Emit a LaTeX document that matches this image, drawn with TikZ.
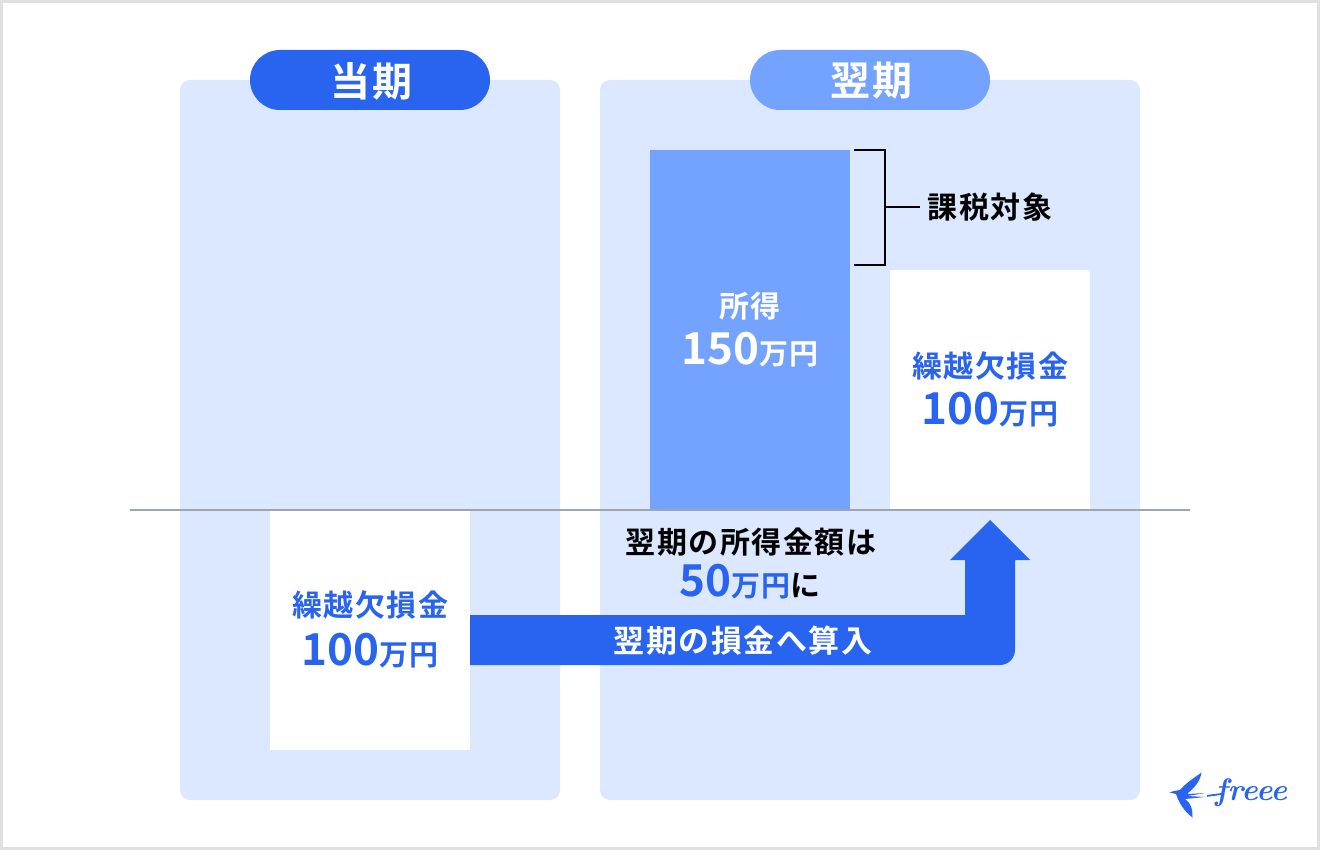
\documentclass[tikz,border=0pt]{standalone}
\usepackage{fontspec}
\newfontfamily\jpfont[LetterSpace=5]{Noto Sans CJK JP Bold}
\newfontfamily\numfont{Noto Sans CJK JP Bold}
\definecolor{freeeBlue}{HTML}{2864F0}
\definecolor{midBlue}{HTML}{73A3FF}
\definecolor{paleBlue}{HTML}{DBE8FF}
\definecolor{axisGray}{HTML}{A0A4AC}
\definecolor{frameGray}{HTML}{E0E0E0}
\newcommand{\jpsize}[1]{\fontsize{#1}{#1}\selectfont\jpfont}
\newcommand{\amount}[1]{{\fontsize{44}{44}\selectfont\numfont #1}{\jpsize{29}万円}}
\tikzset{
	panel/.style={fill=paleBlue, rounded corners=10pt},
	pill/.style={rounded corners=30pt},
	lbl/.style={inner sep=0pt, anchor=center},
	lblW/.style={lbl, text=white},
	lblB/.style={lbl, text=freeeBlue},
	lblK/.style={lbl, text=black}
}
\begin{document}
\begin{tikzpicture}[x=1pt, y=-1pt]
	\useasboundingbox (0,0) rectangle (1320,850);
	\draw[frameGray, line width=3pt] (1.5,1.5) rectangle (1318.5,848.5);

	\fill[panel] (180,80) rectangle (560,800);
	\fill[panel] (600,80) rectangle (1140,800);
	\fill[freeeBlue, pill] (250,50) rectangle (490,110);
	\fill[midBlue, pill] (750,50) rectangle (990,110);
	\node[lblW] (lblCur) at (371,81) {\jpsize{40}当期};
	\node[lblW] (lblNext) at (871,81) {\jpsize{40}翌期};

	% income and carry-over
	\fill[midBlue] (650,150) rectangle (850,510);
	\fill[white] (890,270) rectangle (1090,510);
	\fill[white] (270,510) rectangle (470,750);
	\node[lblW] (lblInc) at (750,306) {\jpsize{30}所得};
	\node[lblW] (amtInc) at (750,350) {\amount{150}};
	\node[lblB] (lblLossR) at (990,366) {\jpsize{30}繰越欠損金};
	\node[lblB] (amtLossR) at (990,410) {\amount{100}};
	\node[lblB] (lblLossL) at (370,605) {\jpsize{30}繰越欠損金};
	\node[lblB] (amtLossL) at (370,651) {\amount{100}};

	\draw[axisGray, line width=1.5pt] (130,510) -- (1190,510);

	% taxable bracket
	\coordinate (brTop) at (854,150);
	\coordinate (brBot) at (854,265);
	\coordinate (brMid) at (885,207);
	\node[lblK] (lblTax) at (990,207) {\jpsize{30}課税対象};
	\draw[black, line width=2pt] (brTop) -- (885,150) -- (885,265) -- (brBot);
	\draw[black, line width=1.5pt] (brMid) -- (920,207);

	% arrow
	\fill[freeeBlue] (470,615) -- (965,615) -- (965,560) -- (950,560) -- (990,520)
		-- (1030,560) -- (1015,560) -- (1015,650) arc[start angle=0, end angle=90, radius=15]
		-- (470,665) -- cycle;
	\node[lblW] (lblArr) at (743,641) {\jpsize{31}翌期の損金へ算入};
	\node[lblK] (lblRes) at (751,542) {\jpsize{30}翌期の所得金額は};
	\node[lblK] (amtRes) at (750,582) {\textcolor{freeeBlue}{\amount{50}}\jpsize{30}に};

	% logo
	\fill[freeeBlue] (1169.5,792.5) .. controls (1175,790) and (1178,791) .. (1180,790)
		.. controls (1186,783) and (1194,778) .. (1201.5,772.5)
		.. controls (1200,782) and (1194,788) .. (1187,794) -- (1205,793) -- (1187,796)
		-- (1205,797) -- (1185,799) .. controls (1191,803) and (1193,810) .. (1192.5,817.5)
		.. controls (1184,811) and (1179,803) .. (1176,794) -- cycle;
	\fill[freeeBlue] (1207,795) -- (1222,793) -- (1222,794.8) -- (1207,796.8) -- cycle;
	\node[lbl, anchor=base west, text=freeeBlue] (logo) at (1215,800)
		{\fontsize{31}{31}\selectfont\bfseries\itshape freee};
\end{tikzpicture}
\end{document}
